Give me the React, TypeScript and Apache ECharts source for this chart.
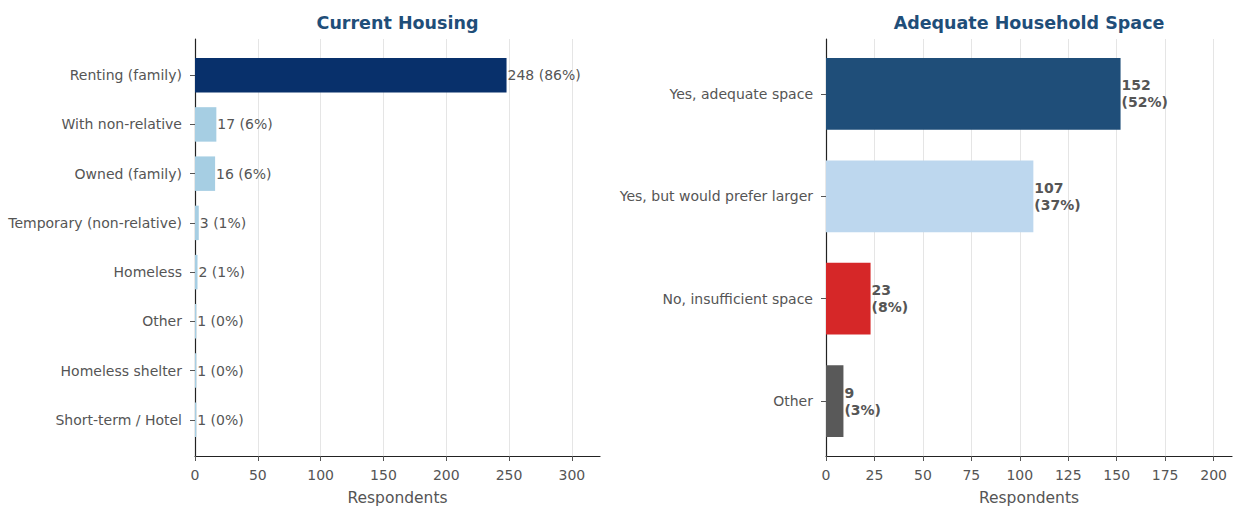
import React, { useEffect, useRef } from "react";
import * as echarts from "echarts";

const housingCategories = [
  "Renting (family)",
  "With non-relative",
  "Owned (family)",
  "Temporary (non-relative)",
  "Homeless",
  "Other",
  "Homeless shelter",
  "Short-term / Hotel",
];
const housingCounts = [248, 17, 16, 3, 2, 1, 1, 1];
const housingPercents = [86, 6, 6, 1, 1, 0, 0, 0];
const housingColors = ["#08306b", "#a6cee3", "#a6cee3", "#a6cee3", "#a6cee3", "#a6cee3", "#a6cee3", "#a6cee3"];
const housingTicks = [0, 50, 100, 150, 200, 250, 300];

const spaceCategories = ["Yes, adequate space", "Yes, but would prefer larger", "No, insufficient space", "Other"];
const spaceCounts = [152, 107, 23, 9];
const spacePercents = [52, 37, 8, 3];
const spaceColors = ["#1f4e79", "#bdd7ee", "#d62728", "#595959"];
const spaceTicks = [0, 25, 50, 75, 100, 125, 150, 175, 200];

const FONT = "DejaVu Sans";
const TEXT = "#555555";

function makeRender(colors: string[], labels: string[], bold: boolean, lineHeight: number) {
  return (params: any, api: any) => {
    const v = api.value(0);
    const idx = api.value(1);
    const start = api.coord([0, idx]);
    const end = api.coord([v, idx]);
    const h = Math.abs(api.size([0, 0.7])[1]);
    return {
      type: "group",
      children: [
        {
          type: "rect",
          shape: { x: start[0], y: start[1] - h / 2, width: end[0] - start[0], height: h },
          style: { fill: colors[idx] },
        },
        {
          type: "text",
          x: end[0] + 1,
          y: end[1],
          style: {
            text: labels[idx],
            fill: TEXT,
            fontFamily: FONT,
            fontSize: 14,
            fontWeight: bold ? "bold" : "normal",
            align: "left",
            verticalAlign: "middle",
            lineHeight,
          },
        },
      ],
    };
  };
}

export default function App() {
  const ref = useRef<HTMLDivElement>(null);
  useEffect(() => {
    if (!ref.current) return;
    const chart = echarts.init(ref.current, null, { renderer: "svg" });
    const housingLabels = housingCounts.map((c, i) => `${c} (${housingPercents[i]}%)`);
    const spaceLabels = spaceCounts.map((c, i) => `${c}\n(${spacePercents[i]}%)`);
    const axisCommonX = (max: number, ticks: number[]) => ({
      type: "value",
      min: 0,
      max,
      axisLine: { show: true, onZero: false, lineStyle: { color: "#222", width: 1.2 } },
      axisTick: { show: true, length: 5, lineStyle: { color: "#555" }, customValues: ticks },
      axisLabel: {
        customValues: ticks,
        color: TEXT,
        fontFamily: FONT,
        fontSize: 14,
        margin: 12,
      },
      splitLine: { show: true, lineStyle: { color: "#e5e5e5", width: 1 } },
      name: "Respondents",
      nameLocation: "middle",
      nameGap: 34,
      nameTextStyle: { color: TEXT, fontFamily: FONT, fontSize: 15.5 },
    });
    const axisCommonY = (cats: string[], margin: number) => {
      const vals = cats.map((_, i) => i);
      const n = cats.length;
      const pad = 0.35 + (n - 1 + 0.7) * 0.05;
      return {
        type: "value",
        inverse: true,
        min: -pad,
        max: n - 1 + pad,
        axisLine: { show: true, onZero: false, lineStyle: { color: "#222", width: 1.2 } },
        axisTick: { show: true, length: 5, lineStyle: { color: "#555" }, customValues: vals },
        axisLabel: {
          customValues: vals,
          formatter: (v: number) => cats[Math.round(v)] ?? "",
          color: TEXT,
          fontFamily: FONT,
          fontSize: 14,
          margin,
        },
        splitLine: { show: false },
      };
    };
    chart.setOption({
      animation: false,
      backgroundColor: "#ffffff",
      title: [
        {
          text: "Current Housing",
          left: 397.5,
          top: 14,
          textAlign: "center",
          padding: 0,
          textStyle: { color: "#1f4e79", fontFamily: FONT, fontWeight: "bold", fontSize: 17.5 },
        },
        {
          text: "Adequate Household Space",
          left: 1029,
          top: 14,
          textAlign: "center",
          padding: 0,
          textStyle: { color: "#1f4e79", fontFamily: FONT, fontWeight: "bold", fontSize: 17.5 },
        },
      ],
      grid: [
        { left: 195, right: 636, top: 39, bottom: 51, outerBoundsMode: "none", containLabel: false },
        { left: 826, right: 4, top: 39, bottom: 51, outerBoundsMode: "none", containLabel: false },
      ],
      xAxis: [
        { ...axisCommonX(322.4, housingTicks), gridIndex: 0 },
        { ...axisCommonX(209.5, spaceTicks), gridIndex: 1 },
      ],
      yAxis: [
        { ...axisCommonY(housingCategories, 13), gridIndex: 0 },
        { ...axisCommonY(spaceCategories, 13), gridIndex: 1 },
      ],
      series: [
        {
          type: "custom",
          xAxisIndex: 0,
          yAxisIndex: 0,
          encode: { x: 0, y: 1 },
          data: housingCounts.map((c, i) => [c, i]),
          renderItem: makeRender(housingColors, housingLabels, false, 16),
        },
        {
          type: "custom",
          xAxisIndex: 1,
          yAxisIndex: 1,
          encode: { x: 0, y: 1 },
          data: spaceCounts.map((c, i) => [c, i]),
          renderItem: makeRender(spaceColors, spaceLabels, true, 17),
        },
      ],
    });
    return () => chart.dispose();
  }, []);
  return (
    <div
      ref={ref}
      style={{ position: "fixed", left: 0, top: 0, width: 1236, height: 507, background: "#fff" }}
    />
  );
}
